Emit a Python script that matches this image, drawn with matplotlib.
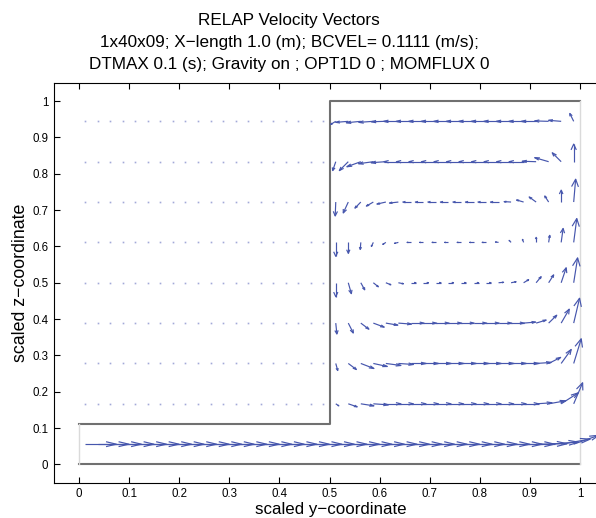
import numpy as np
import matplotlib
matplotlib.use("Agg")
import matplotlib.pyplot as plt
from matplotlib.collections import LineCollection

plt.rcParams['font.family'] = ['Liberation Sans', 'DejaVu Sans']

# grid: 40 cells across (scaled y), 9 cells up (scaled z)
n_y = 40
n_z = 9
y_cells = (np.arange(n_y) + 0.5) / n_y
z_cells = (np.arange(n_z) + 0.5) / n_z

# bottom channel row (all 40 columns), m/s
channel_u = [0.111] * 36 + [0.111, 0.107, 0.104, 0.090]
channel_w = [0.0] * 36 + [0.002, 0.010, 0.025, 0.044]

# cavity rows 1..8 over columns 20..39, m/s
cavity_u = [
    [0.011, 0.032, 0.047, 0.054] + [0.054] * 12 + [0.057, 0.061, 0.061, 0.032],
    [0.007, 0.029, 0.047, 0.050, 0.054, 0.054] + [0.054] * 10 + [0.054, 0.043, 0.036, 0.027],
    [0.004, 0.018, 0.029, 0.039, 0.043, 0.047] + [0.047] * 9 + [0.043, 0.036, 0.029, 0.029, 0.021],
    [0.0, 0.011, 0.014, 0.018, 0.018, 0.018] + [0.018] * 7 + [0.018, 0.018, 0.018, 0.018, 0.018, 0.018, 0.014],
    [0.0, 0.0, -0.002, -0.007, -0.011, -0.014] + [-0.014] * 7 + [-0.011, -0.007, -0.004, 0.0, 0.004, 0.007, 0.011],
    [-0.002, -0.018, -0.021, -0.025, -0.032, -0.032] + [-0.029] * 8 + [-0.025, -0.025, -0.025, -0.014, 0.0, 0.007],
    [-0.011, -0.032, -0.050, -0.053, -0.053] + [-0.052] * 11 + [-0.050, -0.050, -0.032, 0.0],
    [-0.018, -0.045, -0.052, -0.052, -0.052] + [-0.053] * 12 + [-0.050, -0.045, -0.014],
]
cavity_w = [
    [-0.010, -0.015, -0.010, -0.005] + [0.0] * 12 + [0.005, 0.015, 0.054, 0.104],
    [-0.035, -0.030, -0.025, -0.015, -0.010, -0.005] + [0.0] * 10 + [0.005, 0.030, 0.069, 0.122],
    [-0.054, -0.049, -0.030, -0.020, -0.010, -0.005] + [0.0] * 9 + [0.005, 0.015, 0.039, 0.069, 0.123],
    [-0.069, -0.054, -0.035, -0.020, -0.010, -0.005] + [0.0] * 7 + [0.002, 0.005, 0.015, 0.030, 0.039, 0.074, 0.123],
    [-0.069, -0.054, -0.035, -0.020, -0.010, -0.005] + [0.0] * 7 + [0.002, 0.010, 0.015, 0.025, 0.035, 0.069, 0.118],
    [-0.069, -0.054, -0.030, -0.020, -0.010, -0.005] + [0.0] * 8 + [0.002, 0.010, 0.025, 0.030, 0.059, 0.113],
    [-0.044, -0.044, -0.025, -0.010, -0.005] + [0.0] * 11 + [0.002, 0.020, 0.044, 0.087],
    [-0.015, -0.005, -0.007, -0.005, -0.002] + [0.0] * 12 + [0.002, 0.005, 0.039],
]

title_lines = [
    "RELAP Velocity Vectors",
    "1x40x09; X\u2212length 1.0 (m); BCVEL= 0.1111 (m/s);",
    "DTMAX 0.1 (s); Gravity on ; OPT1D 0 ; MOMFLUX 0",
]
ticks = [0, 0.1, 0.2, 0.3, 0.4, 0.5, 0.6, 0.7, 0.8, 0.9, 1]
tick_labels = ["0", "0.1", "0.2", "0.3", "0.4", "0.5", "0.6", "0.7", "0.8", "0.9", "1"]

# full velocity field, stagnant upper-left part stays zero
U = np.zeros((n_z, n_y))
W = np.zeros((n_z, n_y))
U[0] = channel_u
W[0] = channel_w
U[1:, 20:] = np.array(cavity_u)
W[1:, 20:] = np.array(cavity_w)

fig = plt.figure(figsize=(5.96, 5.18), dpi=100)
ax = fig.add_axes([54 / 596, 35.5 / 518, 551 / 596, 399.5 / 518])

# domain outline
dark = '#707070'
light = '#dadada'
ax.plot([0, 1], [0, 0], color=dark, lw=1.5)
ax.plot([0, 0.5, 0.5, 1], [1 / 9, 1 / 9, 1, 1], color=dark, lw=1.5)
ax.plot([0, 0], [0, 1 / 9], color=light, lw=1.0)
ax.plot([1, 1], [0, 1], color=light, lw=1.0)

# matlab-style quiver: shaft + two head strokes, in data units
Y, Z = np.meshgrid(y_cells, z_cells)
vscale = 1.795  # m/s per data unit
alpha, beta = 0.33, 0.33
moving = (U != 0) | (W != 0)
x0, y0 = Y[moving], Z[moving]
uu, vv = U[moving] / vscale, W[moving] / vscale
xt, yt = x0 + uu, y0 + vv
segs = []
for i in range(len(x0)):
    segs.append([(x0[i], y0[i]), (xt[i], yt[i])])
    segs.append([(xt[i] - alpha * (uu[i] + beta * vv[i]), yt[i] - alpha * (vv[i] - beta * uu[i])),
                 (xt[i], yt[i]),
                 (xt[i] - alpha * (uu[i] - beta * vv[i]), yt[i] - alpha * (vv[i] + beta * uu[i]))])
ax.add_collection(LineCollection(segs, colors='#4656ad', linewidths=0.85, zorder=3))
ax.plot(Y[~moving], Z[~moving], 's', ms=1.2, mec='none', color='#a3a9d8', zorder=3)

ax.set_xlim(-0.05, 1.05)
ax.set_ylim(-0.05, 1.05)
ax.set_xticks(ticks)
ax.set_xticklabels(tick_labels)
ax.set_yticks(ticks)
ax.set_yticklabels(tick_labels)
ax.tick_params(direction='in', length=4.3, width=0.8, top=True, right=True,
               labelsize=8.3, pad=4)
for s in ax.spines.values():
    s.set_linewidth(0.8)

fig.text(331 / 596, 1 - 514 / 518, "scaled y\u2212coordinate", ha='center', va='baseline', fontsize=12.2)
fig.text(21 / 596, 1 - 282.7 / 518, "scaled z\u2212coordinate", ha='center', va='center',
         rotation=90, fontsize=12.8)
for k, line in enumerate(title_lines):
    fig.text(289 / 596, 1 - [25.5, 47.5, 68.5][k] / 518, line, ha='center', va='baseline', fontsize=12.3)

fig.savefig("out.png", dpi=100)
